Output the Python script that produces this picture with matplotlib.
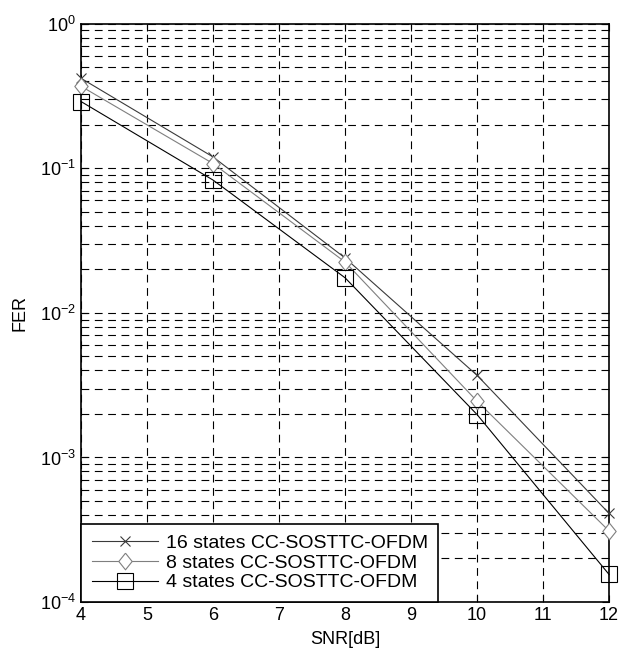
import matplotlib
matplotlib.use('Agg')
import matplotlib.pyplot as plt
from matplotlib.ticker import LogLocator, FixedLocator, NullFormatter

plt.rcParams['font.family'] = ['Liberation Sans', 'DejaVu Sans']

snr = [4, 6, 8, 10, 12]
fer_16 = [0.42, 0.12, 0.024, 0.0037, 0.00041]
fer_8 = [0.37, 0.108, 0.0225, 0.00245, 0.00031]
fer_4 = [0.29, 0.083, 0.0175, 0.00198, 0.000155]

labels = ['16 states CC-SOSTTC-OFDM', '8 states CC-SOSTTC-OFDM', '4 states CC-SOSTTC-OFDM']

# diamond a bit wider than the thin one, like matlab's
diamond = [(0, 1), (0.8, 0), (0, -1), (-0.8, 0), (0, 1)]

fig = plt.figure(figsize=(6.19, 6.63), dpi=100)
ax = fig.add_axes([0.131, 0.092, 0.853, 0.872])

ax.semilogy(snr, fer_16, color='#3a3a3a', lw=0.8, marker='x', ms=7, mew=0.8,
            label=labels[0], clip_on=False, zorder=3)
ax.semilogy(snr, fer_8, color='#7f7f7f', lw=0.8, marker=diamond, ms=12, mew=0.8,
            mfc='white', label=labels[1], clip_on=False, zorder=3)
ax.semilogy(snr, fer_4, color='black', lw=0.8, marker='s', ms=11, mew=0.8,
            mfc='none', label=labels[2], clip_on=False, zorder=3)

ax.set_xlim(4, 12)
ax.set_ylim(1e-4, 1)
ax.xaxis.set_major_locator(FixedLocator(range(4, 13)))
ax.yaxis.set_major_locator(LogLocator(base=10, numticks=10))
ax.yaxis.set_minor_locator(LogLocator(base=10, subs=range(2, 10), numticks=20))
ax.yaxis.set_minor_formatter(NullFormatter())

dash = (0, (7, 5))
ax.grid(True, which='major', axis='both', color='black', lw=0.8, linestyle=dash)
ax.grid(True, which='minor', axis='y', color='black', lw=0.8, linestyle=dash)

ax.tick_params(which='both', direction='in', top=True, right=True, labelsize=13)
ax.tick_params(which='major', length=5)
ax.tick_params(which='minor', length=3)
for s in ax.spines.values():
    s.set_linewidth(1.2)

ax.set_xlabel('SNR[dB]', fontsize=13, labelpad=5)
ax.set_ylabel('FER', fontsize=13, labelpad=8)

leg = ax.legend(loc='lower left', fontsize=14, borderaxespad=0, fancybox=False,
                framealpha=1, edgecolor='black', handlelength=3.4, borderpad=0.55,
                labelspacing=0.1, handletextpad=0.4)
leg.get_frame().set_linewidth(1.2)
leg.set_zorder(5)

fig.savefig('out.png', dpi=100)
